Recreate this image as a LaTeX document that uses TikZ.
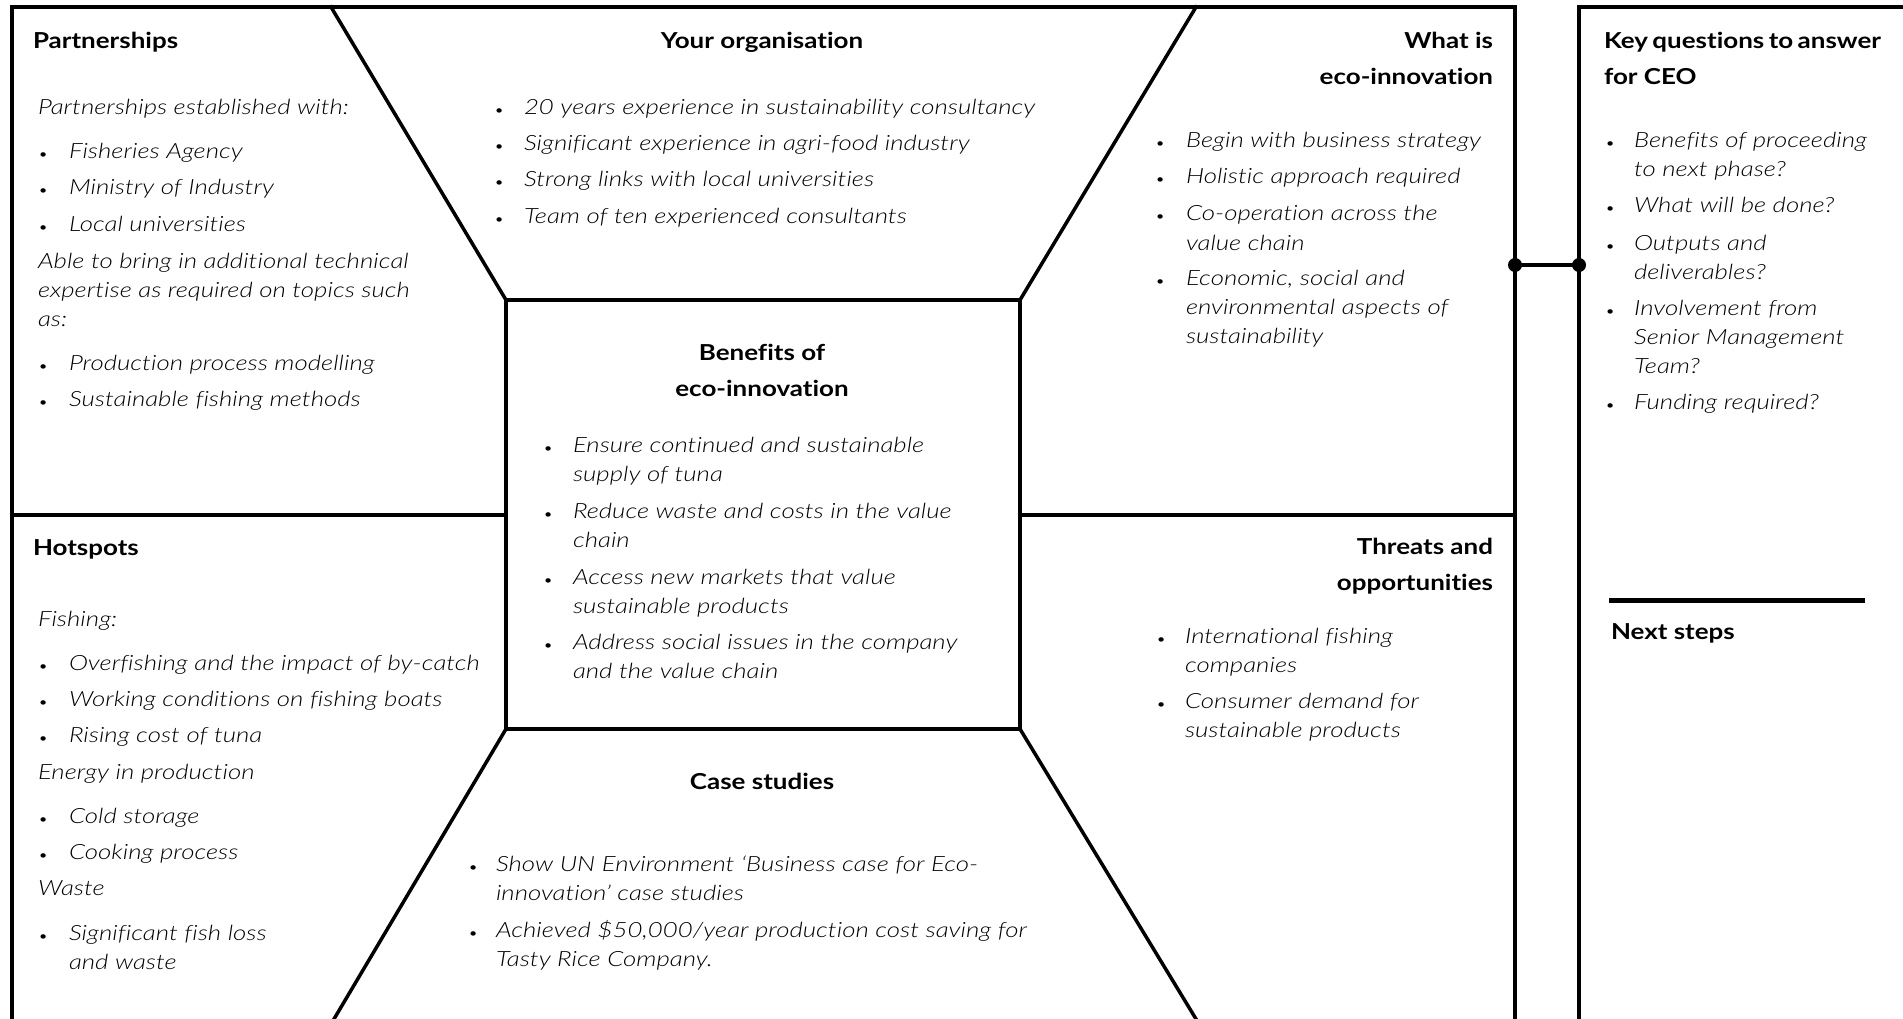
\documentclass[tikz,border=0pt]{standalone}
\usepackage{fontspec}
\setmainfont{Lato}[FakeStretch=1.18, Ligatures=NoCommon]
\newfontfamily\lightit{Lato Light Italic}[FakeStretch=1.23, Ligatures=NoCommon]
\usepackage{tikz}

\begin{document}
\begin{tikzpicture}[x=1pt,y=-1pt,line cap=rect,
    frame/.style={line width=4pt},
    slant/.style={line width=3.5pt},
    body/.style={font=\bodyfont, anchor=base west, inner sep=0, outer sep=0, align=left},
    bul/.style={font=\fontsize{12pt}{12pt}\selectfont, anchor=base west, inner sep=0, outer sep=0},
    head/.style={font=\headfont, anchor=base west, inner sep=0, outer sep=0, align=left},
    dot/.style={circle, fill, inner sep=0, minimum size=14pt}]
					\def\bodyfont{\fontsize{21pt}{29pt}\selectfont\lightit}
					\def\headfont{\fontsize{22pt}{36pt}\selectfont\bfseries}
					\useasboundingbox (0,0) rectangle (1903,1019);
					\fill [white] (0,0) rectangle (1903,1019);
					% outer frame of the canvas
					\draw [frame] (12,1019) -- (12,7) -- (1515,7) -- (1515,1019);
					\draw [frame] (12,515) -- (506,515);
					\draw [frame] (1020,515) -- (1515,515);
					\draw [frame] (506,300) rectangle (1020,729);
					\draw [slant] (331,7) -- (506,300);
					\draw [slant] (1196,7) -- (1020,300);
					\draw [slant] (506,729) -- (334,1019);
					\draw [slant] (1020,729) -- (1196,1019);
					% side panel
					\draw [frame] (1579,1019) -- (1579,7) -- (1903,7);
					\draw [line width=5pt] (1611,600) -- (1862,600);
					\node [dot] (ldot) at (1515,265) {};
					\node [dot] (rdot) at (1579,265) {};
					\draw [frame] (ldot.center) -- (rdot.center);
					% Partnerships (multi-line nodes sit on their last baseline)
					\node [head] (parthead) at (33,49) {Partnerships};
					\node [body] (partintro) at (38,115) {Partnerships established with:};
					\node [bul] (pb1) at (39,159) {•}; \node [body] (pi1) at (69,159) {Fisheries Agency};
					\node [bul] (pb2) at (39,195) {•}; \node [body] (pi2) at (69,195) {Ministry of Industry};
					\node [bul] (pb3) at (39,232) {•}; \node [body] (pi3) at (69,232) {Local universities};
					\node [body] (partextra) at (38,326) {Able to bring in additional technical\\expertise as required on topics such\\as:};
					\node [bul] (pb4) at (39,370) {•}; \node [body] (pi4) at (69,370) {Production process modelling};
					\node [bul] (pb5) at (39,406) {•}; \node [body] (pi5) at (69,406) {Sustainable fishing methods};
					% Hotspots
					\node [head] (hothead) at (33,555) {Hotspots};
					\node [body] (hotfish) at (38,626) {Fishing:};
					\node [bul] (hb1) at (39,670) {•}; \node [body] (hi1) at (69,670) {Overfishing and the impact of by-catch};
					\node [bul] (hb2) at (39,706) {•}; \node [body] (hi2) at (69,706) {Working conditions on fishing boats};
					\node [bul] (hb3) at (39,742) {•}; \node [body] (hi3) at (69,742) {Rising cost of tuna};
					\node [body] (hotenergy) at (38,779) {Energy in production};
					\node [bul] (hb4) at (39,823) {•}; \node [body] (hi4) at (69,823) {Cold storage};
					\node [bul] (hb5) at (39,859) {•}; \node [body] (hi5) at (69,859) {Cooking process};
					\node [body] (hotwaste) at (38,895) {Waste};
					\node [bul] (hb6) at (39,940) {•}; \node [body] (hi6) at (69,969) {Significant fish loss\\and waste};
					% Your organisation
					\node [head, anchor=base, align=center] (orghead) at (762,49) {Your organisation};
					\node [bul] (ob1) at (495,115) {•}; \node [body] (oi1) at (524,115) {20 years experience in sustainability consultancy};
					\node [bul] (ob2) at (495,151) {•}; \node [body] (oi2) at (524,151) {Significant experience in agri-food industry};
					\node [bul] (ob3) at (495,187) {•}; \node [body] (oi3) at (524,187) {Strong links with local universities};
					\node [bul] (ob4) at (495,224) {•}; \node [body] (oi4) at (524,224) {Team of ten experienced consultants};
					% What is eco-innovation
					\node [head, anchor=base east, align=right] (whathead) at (1493,85) {What is\\eco-innovation};
					\node [bul] (wb1) at (1156,148) {•}; \node [body] (wi1) at (1186,148) {Begin with business strategy};
					\node [bul] (wb2) at (1156,184) {•}; \node [body] (wi2) at (1186,184) {Holistic approach required};
					\node [bul] (wb3) at (1156,221) {•}; \node [body] (wi3) at (1186,250) {Co-operation across the\\value chain};
					\node [bul] (wb4) at (1156,285) {•}; \node [body] (wi4) at (1186,343) {Economic, social and\\environmental aspects of\\sustainability};
					% Benefits of eco-innovation
					\node [head, anchor=base, align=center] (benhead) at (762,396) {Benefits of\\eco-innovation};
					\node [bul] (bb1) at (544,452) {•}; \node [body] (bi1) at (573,481) {Ensure continued and sustainable\\supply of tuna};
					\node [bul] (bb2) at (544,518) {•}; \node [body] (bi2) at (573,547) {Reduce waste and costs in the value\\chain};
					\node [bul] (bb3) at (544,584) {•}; \node [body] (bi3) at (573,613) {Access new markets that value\\sustainable products};
					\node [bul] (bb4) at (544,649) {•}; \node [body] (bi4) at (573,678) {Address social issues in the company\\and the value chain};
					% Case studies
					\node [head, anchor=base, align=center] (casehead) at (762,789) {Case studies};
					\node [bul] (cb1) at (469,871) {•}; \node [body] (ci1) at (496,900) {Show UN Environment ‘Business case for Eco-\\innovation’ case studies};
					\node [bul] (cb2) at (469,937) {•}; \node [body] (ci2) at (496,966) {Achieved \$50,000/year production cost saving for\\Tasty Rice Company.};
					% Threats and opportunities
					\node [head, anchor=base east, align=right] (threathead) at (1493,590) {Threats and\\opportunities};
					\node [bul] (tb1) at (1157,643) {•}; \node [body] (ti1) at (1185,672) {International fishing\\companies};
					\node [bul] (tb2) at (1157,708) {•}; \node [body] (ti2) at (1185,737) {Consumer demand for\\sustainable products};
					% Key questions and next steps
					\node [head] (keyhead) at (1604,85) {\makebox[277pt][s]{Key questions to answer}\\for CEO};
					\node [bul] (kb1) at (1606,148) {•}; \node [body] (ki1) at (1634,177) {Benefits of proceeding\\to next phase?};
					\node [bul] (kb2) at (1606,213) {•}; \node [body] (ki2) at (1634,213) {What will be done?};
					\node [bul] (kb3) at (1606,250) {•}; \node [body] (ki3) at (1634,279) {Outputs and\\deliverables?};
					\node [bul] (kb4) at (1606,315) {•}; \node [body] (ki4) at (1634,373) {Involvement from\\Senior Management\\Team?};
					\node [bul] (kb5) at (1606,409) {•}; \node [body] (ki5) at (1634,409) {Funding required?};
					\node [head] (nexthead) at (1611,639) {Next steps};
				\end{tikzpicture}
\end{document}
